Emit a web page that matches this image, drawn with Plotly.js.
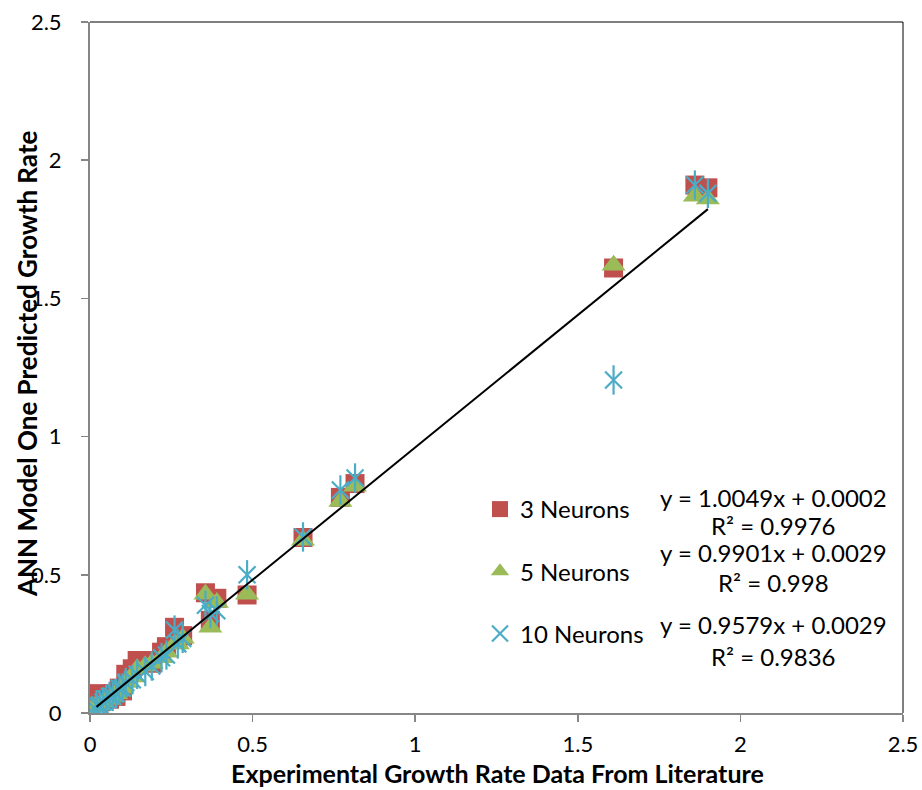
<!DOCTYPE html>
<html>
<head>
<meta charset="utf-8">
<script src="https://cdn.plot.ly/plotly-3.0.1.min.js"></script>
<style>html,body{margin:0;padding:0;background:#fff;}#chart{width:922px;height:790px;}</style>
</head>
<body>
<div id="chart"></div>
<script>
// Experimental growth rate (x) vs ANN predicted (y)
var x3 = [0.01,0.02,0.03,0.04,0.05,0.06,0.07,0.08,0.09,0.10,0.11,0.13,0.145,0.17,0.19,0.22,0.235,0.26,0.27,0.285,0.355,0.37,0.39,0.483,0.655,0.77,0.815,1.61,1.86,1.90];
var y3 = [0.06,0.07,0.04,0.05,0.06,0.05,0.07,0.06,0.09,0.08,0.14,0.16,0.19,0.19,0.18,0.22,0.24,0.31,0.27,0.28,0.435,0.335,0.415,0.427,0.635,0.78,0.83,1.61,1.91,1.90];

var x5 = [0.01,0.02,0.03,0.04,0.05,0.06,0.07,0.08,0.09,0.10,0.11,0.13,0.145,0.17,0.19,0.22,0.235,0.26,0.27,0.285,0.355,0.37,0.39,0.483,0.655,0.77,0.815,1.61,1.86,1.90];
var y5 = [0.02,0.03,0.03,0.04,0.05,0.05,0.06,0.07,0.08,0.09,0.11,0.13,0.16,0.17,0.18,0.20,0.22,0.25,0.25,0.27,0.43,0.31,0.40,0.43,0.625,0.765,0.82,1.62,1.87,1.86];

var x10 = [0.02,0.02,0.03,0.04,0.05,0.06,0.07,0.08,0.09,0.10,0.11,0.13,0.145,0.17,0.19,0.22,0.235,0.26,0.27,0.285,0.355,0.37,0.39,0.483,0.655,0.77,0.815,1.61,1.86,1.90];
var y10 = [0.01,0.03,0.03,0.04,0.05,0.06,0.06,0.07,0.09,0.09,0.11,0.12,0.14,0.15,0.17,0.20,0.21,0.30,0.25,0.27,0.39,0.36,0.37,0.50,0.637,0.807,0.85,1.205,1.91,1.88];

var seriesNames = ["3 Neurons", "5 Neurons", "10 Neurons"];
var fitSlope = [1.0049, 0.9901, 0.9579];
var fitIntercept = [0.0002, 0.0029, 0.0029];
var fitR2 = ["0.9976", "0.998", "0.9836"];
var xTicks = [0, 0.5, 1, 1.5, 2, 2.5];
var yTicks = [0, 0.5, 1, 1.5, 2, 2.5];
var xTitle = "Experimental Growth Rate Data From Literature";
var yTitle = "ANN Model One Predicted Growth Rate";

var FONT = "Lato, 'Liberation Sans', sans-serif";
var RED = "#C0504D", GREEN = "#9BBB59", BLUE = "#4BACC6";

function fmt(v){ return v.toFixed(4); }
// pixel -> paper helpers (plot area 90..903 x 22..713)
function px(p){ return (p-90)/813; }
function py(p){ return (713-p)/691; }

var tx0 = Math.min.apply(null, x10), tx1 = Math.max.apply(null, x10);
var traces = [
  {x:x3, y:y3, type:'scatter', mode:'markers', name:seriesNames[0], legendgroup:'a',
   marker:{symbol:'square', size:19, color:RED}},
  {x:x5, y:y5, type:'scatter', mode:'markers', name:seriesNames[1], legendgroup:'b',
   marker:{symbol:'triangle-up', size:21, color:GREEN}},
  {x:x10, y:y10, type:'scatter', mode:'markers', name:seriesNames[2], legendgroup:'c',
   marker:{symbol:'x-thin-open', size:17, color:BLUE, line:{color:BLUE, width:2.2}}},
  {x:x10, y:y10, type:'scatter', mode:'markers', name:seriesNames[2], legendgroup:'c', showlegend:false,
   marker:{symbol:'line-ns-open', size:21, color:BLUE, line:{color:BLUE, width:2.2}}},
  {x:[tx0, tx1], y:[fitSlope[2]*tx0+fitIntercept[2], fitSlope[2]*tx1+fitIntercept[2]], type:'scatter', mode:'lines',
   showlegend:false, line:{color:'#000', width:2}}
];

var annotations = [];
var eqPix = [[497,525],[552,582],[624,656]];
for (var i=0;i<3;i++){
  annotations.push({xref:'paper', yref:'paper', x:px(773), y:py(eqPix[i][0]), xanchor:'center', yanchor:'middle',
    text:'y = '+fmt(fitSlope[i])+'x + '+fmt(fitIntercept[i]), showarrow:false, font:{family:FONT, size:24, color:'#000'}});
  annotations.push({xref:'paper', yref:'paper', x:px(773), y:py(eqPix[i][1]), xanchor:'center', yanchor:'middle',
    text:'R² = '+fitR2[i], showarrow:false, font:{family:FONT, size:24, color:'#000'}});
}
annotations.push({xref:'paper', yref:'paper', x:px(497), y:py(790), xanchor:'center', yanchor:'bottom',
  text:'<b>'+xTitle+'</b>', showarrow:false, font:{family:FONT, size:25, color:'#000'}});
annotations.push({xref:'paper', yref:'paper', x:px(27), y:py(364), xanchor:'center', yanchor:'middle', textangle:-90,
  text:'<b>'+yTitle+'</b>', showarrow:false, font:{family:FONT, size:26, color:'#000'}});

var layout = {
  width:922, height:790,
  margin:{l:90, r:19, t:22, b:77},
  paper_bgcolor:'#fff', plot_bgcolor:'#fff',
  font:{family:FONT, size:20, color:'#000'},
  showlegend:true,
  legend:{x:px(480), y:py(487), xanchor:'left', yanchor:'top', bgcolor:'rgba(0,0,0,0)',
    font:{family:FONT, size:24, color:'#000'}, traceorder:'grouped', tracegroupgap:28},
  xaxis:{range:[0,2.5], tickvals:xTicks, ticktext:xTicks.map(String), showgrid:false, zeroline:false,
    showline:true, linecolor:'#868686', linewidth:2, ticks:'outside', ticklen:7, tickcolor:'#868686', tickwidth:1.5,
    ticklabelstandoff:4, tickfont:{family:FONT, size:22, color:'#000'}, automargin:false},
  yaxis:{range:[0,2.5], tickvals:yTicks, ticktext:yTicks.map(String), showgrid:false, zeroline:false,
    showline:true, linecolor:'#868686', linewidth:2, ticks:'outside', ticklen:7, tickcolor:'#868686', tickwidth:1.5,
    ticklabelstandoff:15, tickfont:{family:FONT, size:22, color:'#000'}, automargin:false},
  shapes:[
    {type:'line', xref:'paper', yref:'paper', x0:0, x1:1, y0:1, y1:1, line:{color:'#000', width:1}},
    {type:'line', xref:'paper', yref:'paper', x0:1, x1:1, y0:0, y1:1, line:{color:'#000', width:1}}
  ],
  annotations:annotations
};

Plotly.newPlot('chart', traces, layout, {displayModeBar:false, staticPlot:true});
</script>
</body>
</html>
